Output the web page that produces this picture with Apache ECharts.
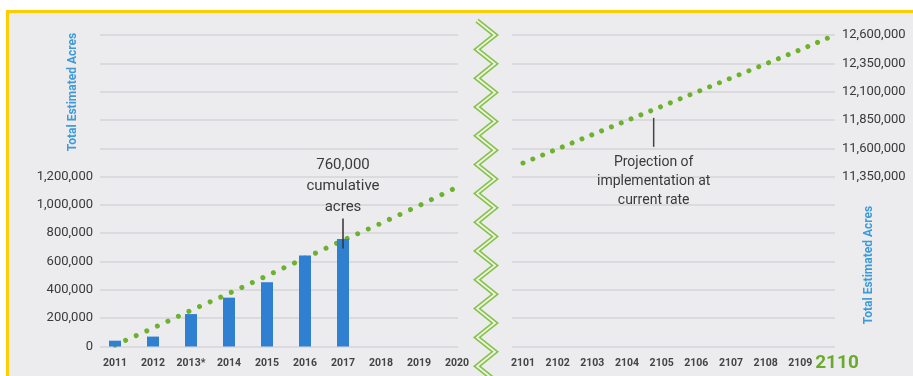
<!DOCTYPE html>
<html>
<head>
<meta charset="utf-8">
<script src="https://cdn.jsdelivr.net/npm/echarts@6/dist/echarts.min.js"></script>
<style>
  html, body { margin: 0; padding: 0; background: #ffffff; }
  #frame { position: absolute; left: 6px; top: 10px; width: 907px; height: 366px;
           box-sizing: border-box; background: #ececef;
           border-left: 3px solid #ffcc00; border-top: 3px solid #ffcc00; }
  #chart { position: absolute; left: 0; top: 0; width: 913px; height: 376px; }
</style>
</head>
<body>
<div id="frame"></div>
<div id="chart"></div>
<script>
// ---- data ----
const leftYears = ['2011', '2012', '2013*', '2014', '2015', '2016', '2017', '2018', '2019', '2020'];
const cumulativeAcres = [41000, 70000, 229000, 345000, 454000, 643000, 760000, null, null, null];
const leftProjection = [10000, 130000, 255000, 375000, 500000, 625000, 750000, 870000, 995000, 1125000];
const rightYears = ['2101', '2102', '2103', '2104', '2105', '2106', '2107', '2108', '2109', '2110'];
const rightProjection = [11470000, 11595000, 11720000, 11845000, 11970000, 12095000, 12220000, 12345000, 12470000, 12600000];
const leftTickLabels = [0, 200000, 400000, 600000, 800000, 1000000, 1200000];
const rightTickLabels = [11350000, 11600000, 11850000, 12100000, 12350000, 12600000];
const axisTitle = 'Total Estimated Acres';
const barNote = '760,000\ncumulative\nacres';
const lineNote = 'Projection of\nimplementation at\ncurrent rate';

const FONT = 'Roboto, "Noto Sans", sans-serif';
const fmt = v => v.toLocaleString('en-US');
const TOP = 35, BOTTOM = 376 - 346.5;
const LMIN = 0, LMAX = 2200000, LINT = 200000;
const RMIN = 9850000, RMAX = 12600000, RINT = 250000;

const chart = echarts.init(document.getElementById('chart'), null, { renderer: 'canvas' });

// zigzag break decoration
const zz = [];
for (let k = 0; k < 14; k++) {
  zz.push([477, 20.6 + 28.8 * k]);
  zz.push([495, 35 + 28.8 * k]);
}

const gridLine = { show: true, lineStyle: { color: '#d6d6da', width: 1.5 } };

const option = {
  backgroundColor: 'transparent',
  animation: false,
  grid: [
    { left: 100, right: 913 - 458, top: TOP, bottom: BOTTOM },
    { left: 115, right: 913 - 457, top: TOP, bottom: BOTTOM },
    { left: 512, right: 913 - 835, top: TOP, bottom: BOTTOM },
    { left: 523, right: 913 - 835, top: TOP, bottom: BOTTOM }
  ],
  xAxis: [
    { gridIndex: 0, type: 'value', show: false, min: 0, max: 1 },
    { gridIndex: 1, type: 'category', data: leftYears, boundaryGap: false,
      axisLine: { show: false }, axisTick: { show: false }, splitLine: { show: false },
      axisLabel: { margin: 11, fontSize: 10.5, fontWeight: 'bold', color: '#444', fontFamily: FONT, interval: 0 } },
    { gridIndex: 2, type: 'value', show: false, min: 0, max: 1 },
    { gridIndex: 3, type: 'category', data: rightYears, boundaryGap: false,
      axisLine: { show: false }, axisTick: { show: false }, splitLine: { show: false },
      axisLabel: { margin: 11, fontSize: 10.5, fontWeight: 'bold', color: '#444', fontFamily: FONT, interval: 0,
        formatter: v => v === rightYears[rightYears.length - 1] ? '{big|' + v + '}' : v,
        rich: { big: { fontSize: 19, fontWeight: 'bold', color: '#6aab2e', fontFamily: FONT, padding: [-4, 0, 0, 4] } } } }
  ],
  yAxis: [
    { gridIndex: 0, type: 'value', min: LMIN, max: LMAX, interval: LINT,
      axisLine: { show: false }, axisTick: { show: false }, splitLine: gridLine,
      axisLabel: { margin: 7, fontSize: 13, color: '#3a3a3a', fontFamily: FONT,
        formatter: v => leftTickLabels.includes(v) ? fmt(v) : '' } },
    { gridIndex: 1, type: 'value', min: LMIN, max: LMAX, interval: LINT, show: false },
    { gridIndex: 2, type: 'value', position: 'right', min: RMIN, max: RMAX, interval: RINT,
      axisLine: { show: false }, axisTick: { show: false }, splitLine: gridLine,
      axisLabel: { margin: 7, fontSize: 13, color: '#3a3a3a', fontFamily: FONT,
        formatter: v => rightTickLabels.includes(v) ? fmt(v) : '' } },
    { gridIndex: 3, type: 'value', min: RMIN, max: RMAX, interval: RINT, show: false }
  ],
  series: [
    { type: 'line', xAxisIndex: 1, yAxisIndex: 1, data: leftProjection, showSymbol: false, z: 1,
      lineStyle: { color: '#6cb22f', width: 5, type: [0.01, 11.6], cap: 'round' } },
    { type: 'bar', xAxisIndex: 1, yAxisIndex: 1, data: cumulativeAcres, barWidth: 12, z: 2,
      itemStyle: { color: '#2f80d0' },
      markPoint: {
        symbol: 'rect', symbolSize: [1.5, 30], symbolOffset: [0, -5.5],
        itemStyle: { color: '#333' },
        label: { show: true, position: 'top', distance: 1, formatter: barNote,
          fontSize: 15, lineHeight: 21, color: '#3a3a3a', fontFamily: FONT, align: 'center' },
        data: [{ coord: [leftYears[6], cumulativeAcres[6]] }]
      } },
    { type: 'line', xAxisIndex: 3, yAxisIndex: 3, data: rightProjection, showSymbol: false, z: 1,
      lineStyle: { color: '#6cb22f', width: 5, type: [0.01, 10.6], cap: 'round' },
      markPoint: {
        symbol: 'rect', symbolSize: [1.5, 29], symbolOffset: [-8, 26],
        itemStyle: { color: '#444' },
        label: { show: true, position: 'bottom', distance: 6, formatter: lineNote,
          fontSize: 14, lineHeight: 19, color: '#3a3a3a', fontFamily: FONT, align: 'center' },
        data: [{ coord: [rightYears[4], rightProjection[4]] }]
      } }
  ],
  graphic: [
    { type: 'text', x: 73, y: 92, rotation: Math.PI / 2,
      style: { text: axisTitle, align: 'center', verticalAlign: 'middle',
        font: 'bold 12px ' + FONT, fill: '#3d9bd8' } },
    { type: 'text', x: 869, y: 265, rotation: Math.PI / 2,
      style: { text: axisTitle, align: 'center', verticalAlign: 'middle',
        font: 'bold 12px ' + FONT, fill: '#3d9bd8' } },
    { type: 'polyline', shape: { points: zz }, silent: true,
      style: { stroke: '#86c24a', lineWidth: 5, fill: null, lineJoin: 'miter' } },
    { type: 'polyline', shape: { points: zz }, silent: true,
      style: { stroke: '#eef5e4', lineWidth: 1.8, fill: null, lineJoin: 'miter' } }
  ]
};
chart.setOption(option);
</script>
</body>
</html>
